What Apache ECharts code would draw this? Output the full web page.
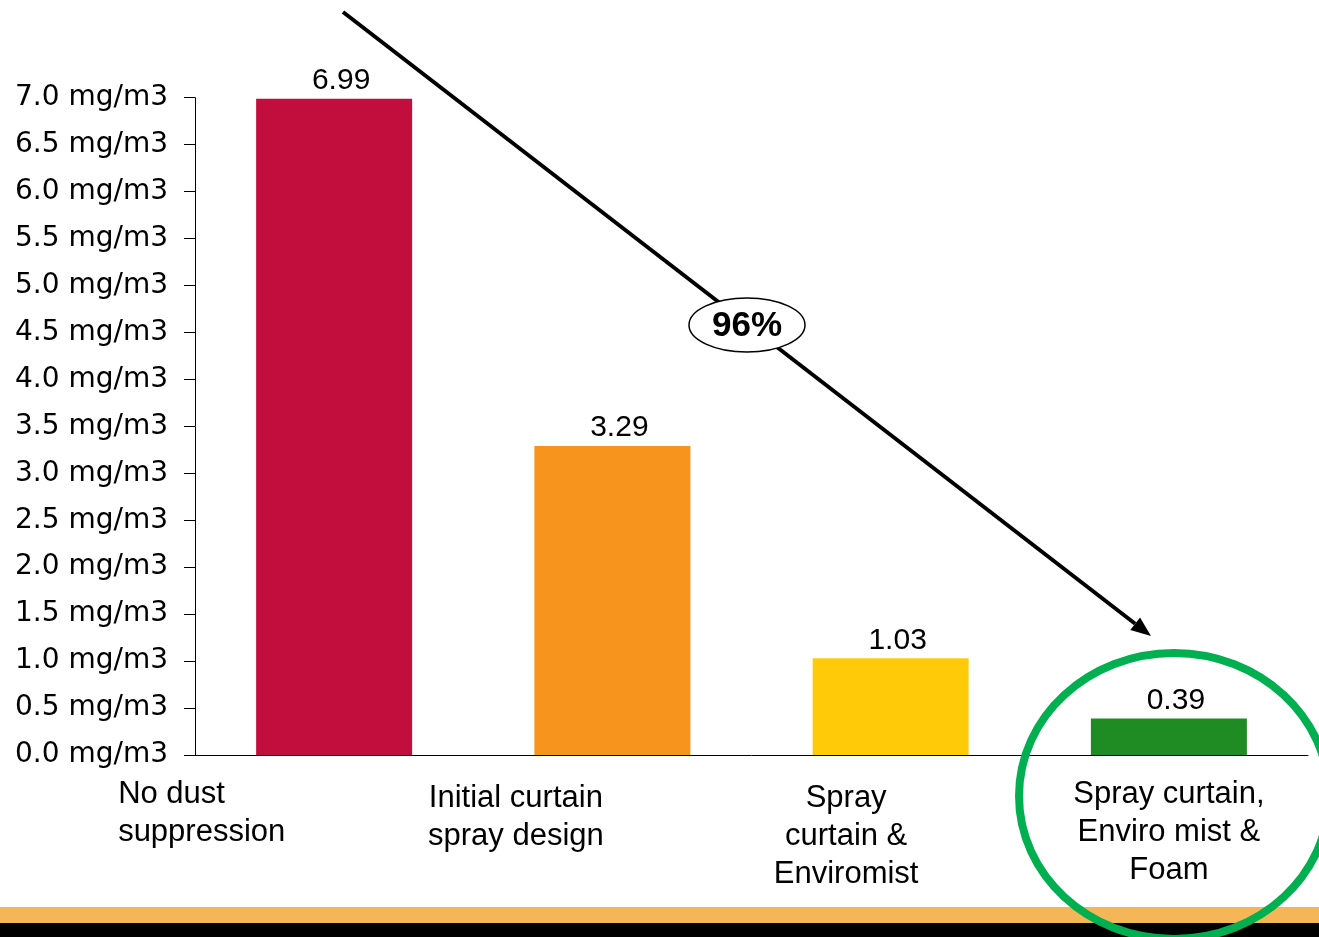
<!DOCTYPE html>
<html>
<head>
<meta charset="utf-8">
<script src="https://cdn.jsdelivr.net/npm/echarts@6/dist/echarts.min.js"></script>
<style>
html,body{margin:0;padding:0;background:#fff;}
#chart{width:1319px;height:937px;}
</style>
</head>
<body>
<div id="chart"></div>
<script>
// ---- data ----
const categories = [
  'No dust\nsuppression',
  'Initial curtain\nspray design',
  'Spray\ncurtain &\nEnviromist',
  'Spray curtain,\nEnviro mist &\nFoam'
];
const values = [6.99, 3.29, 1.03, 0.39];
const yTicks = { min: 0, max: 7, interval: 0.5, unit: ' mg/m3' };
const reductionLabel = '96%';

// ---- styles ----
const barColors = ['#c20e3c', '#f7941e', '#ffcb08', '#1e8c22'];
const FONT = '"Liberation Sans", Arial, Helvetica, sans-serif';
const WIDE_FONT = '"DejaVu Sans", "Liberation Sans", Arial, sans-serif';

const chart = echarts.init(document.getElementById('chart'), null, { renderer: 'canvas' });

// per-category label placement (matching the slide's label layout)
const catTextStyles = [
  { align: 'right', padding: [0, 16, 0, 0], rich: { l: { width: 200, align: 'left', fontSize: 31, lineHeight: 38, fontFamily: FONT, color: '#000' } } },
  { align: 'center', padding: [4, 193, 0, 0] },
  { align: 'center', padding: [4, 89, 0, 0] },
  { align: 'center', padding: [0, 0, 0, 0] }
];

const xData = categories.map((c, i) => ({ value: c, textStyle: catTextStyles[i] }));

// arrow geometry
const A0 = [343, 12], A1 = [1151, 636];
const dx = A1[0] - A0[0], dy = A1[1] - A0[1];
const len = Math.hypot(dx, dy);
const ux = dx / len, uy = dy / len;
const nx = -uy, ny = ux;
const headLen = 20, headHalf = 8;
const B = [A1[0] - ux * headLen, A1[1] - uy * headLen];

const option = {
  backgroundColor: '#fff',
  animation: false,
  grid: { left: 195, right: 11, top: 97.7, bottom: 182, outerBoundsMode: 'none', containLabel: false },
  xAxis: {
    type: 'category',
    data: xData,
    axisLine: { show: true, lineStyle: { color: '#000', width: 1 } },
    axisTick: { show: false },
    splitLine: { show: false },
    axisLabel: {
      interval: 0,
      margin: 20,
      color: '#000',
      fontSize: 31,
      lineHeight: 38,
      fontFamily: FONT,
      formatter: function (v, idx) {
        if (idx === 0) return v.split('\n').map(s => '{l|' + s + '}').join('\n');
        return v;
      }
    }
  },
  yAxis: {
    type: 'value',
    min: yTicks.min,
    max: yTicks.max,
    interval: yTicks.interval,
    axisLine: { show: true, lineStyle: { color: '#000', width: 1 } },
    axisTick: { show: true, length: 11, lineStyle: { color: '#000', width: 1 } },
    splitLine: { show: false },
    axisLabel: {
      margin: 27,
      color: '#000',
      fontSize: 28,
      fontFamily: WIDE_FONT,
      formatter: v => v.toFixed(1) + yTicks.unit
    }
  },
  series: [{
    type: 'bar',
    barWidth: 156,
    data: values.map((v, i) => ({ value: v, itemStyle: { color: barColors[i] } })),
    label: {
      show: true,
      position: 'top',
      distance: 3,
      offset: [7, 0],
      color: '#000',
      fontSize: 30,
      fontFamily: FONT,
      formatter: p => p.value.toFixed(2)
    }
  }],
  graphic: [
    { type: 'rect', z: 1, shape: { x: 0, y: 907, width: 1319, height: 16 }, style: { fill: '#f5b657' } },
    { type: 'rect', z: 1, shape: { x: 0, y: 923, width: 1319, height: 14 }, style: { fill: '#000' } },
    { type: 'line', z: 100, shape: { x1: A0[0], y1: A0[1], x2: B[0], y2: B[1] }, style: { stroke: '#000', lineWidth: 4 } },
    { type: 'polygon', z: 100, shape: { points: [A1, [B[0] + nx * headHalf, B[1] + ny * headHalf], [B[0] - nx * headHalf, B[1] - ny * headHalf]] }, style: { fill: '#000' } },
    { type: 'ellipse', z: 101, shape: { cx: 747, cy: 325, rx: 58, ry: 27 }, style: { fill: '#fff', stroke: '#000', lineWidth: 1.5 } },
    { type: 'text', z: 102, x: 747, y: 326, style: { text: reductionLabel, align: 'center', verticalAlign: 'middle', font: 'bold 35px ' + FONT, fill: '#000' } },
    { type: 'ellipse', z: 110, shape: { cx: 1174, cy: 796, rx: 155, ry: 143 }, style: { fill: 'none', stroke: '#00b050', lineWidth: 8 } }
  ]
};
chart.setOption(option);
</script>
</body>
</html>
